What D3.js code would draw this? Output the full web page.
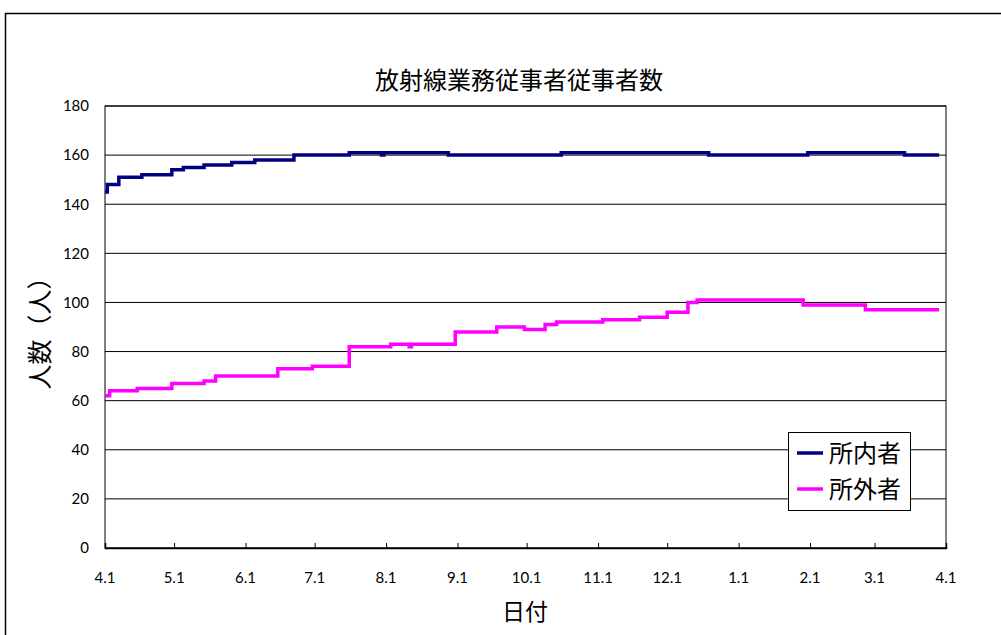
<!DOCTYPE html>
<html lang="ja">
<head>
<meta charset="utf-8">
<script src="https://d3js.org/d3.v7.min.js"></script>
<style>
body { margin: 0; background: #fff; }
text { font-family: "Noto Sans CJK JP", "Noto Sans", sans-serif; fill: #000; }
</style>
</head>
<body>
<svg width="1001" height="635"></svg>
<script>
// 所内者: 変化した日と人数
var naiDates = ["2010-04-01","2010-04-02","2010-04-07","2010-04-17","2010-04-30","2010-05-05","2010-05-14","2010-05-26","2010-06-05","2010-06-22","2010-07-16","2010-07-30","2010-07-31","2010-08-28","2010-10-16","2010-12-19","2011-01-31","2011-03-14","2011-03-29"];
var naiValues = [145,148,151,152,154,155,156,157,158,160,161,160,161,160,161,160,161,160,160];

// 所外者
var gaiDates = ["2010-04-01","2010-04-03","2010-04-15","2010-04-30","2010-05-14","2010-05-19","2010-06-15","2010-06-30","2010-07-16","2010-08-03","2010-08-11","2010-08-12","2010-08-31","2010-09-18","2010-09-30","2010-10-09","2010-10-14","2010-11-03","2010-11-19","2010-12-01","2010-12-10","2010-12-14","2011-01-29","2011-02-25","2011-03-29"];
var gaiValues = [62,64,65,67,68,70,73,74,82,83,82,83,88,90,89,91,92,93,94,96,100,101,99,97,97];

var tickDates = ["2010-04-01","2010-05-01","2010-06-01","2010-07-01","2010-08-01","2010-09-01","2010-10-01","2010-11-01","2010-12-01","2011-01-01","2011-02-01","2011-03-01","2011-04-01"];
var tickLabels = ["4.1","5.1","6.1","7.1","8.1","9.1","10.1","11.1","12.1","1.1","2.1","3.1","4.1"];
var yTicks = [0,20,40,60,80,100,120,140,160,180];

var parse = d3.timeParse("%Y-%m-%d");
var series = [
  { name: "所内者", color: "#000080", data: naiDates.map(function(d, i) { return { date: parse(d), value: naiValues[i] }; }) },
  { name: "所外者", color: "#ff00ff", data: gaiDates.map(function(d, i) { return { date: parse(d), value: gaiValues[i] }; }) }
];

var svg = d3.select("svg");
var plotLeft = 105, plotRight = 946, plotTop = 106, plotBottom = 548;

// outer frame
svg.append("rect")
  .attr("x", 5.5).attr("y", 13.5)
  .attr("width", 1000).attr("height", 640)
  .attr("fill", "none").attr("stroke", "#000").attr("stroke-width", 1.5);

var x = d3.scaleTime().domain([parse(tickDates[0]), parse(tickDates[tickDates.length - 1])]).range([plotLeft, plotRight]);
var y = d3.scaleLinear().domain([0, 180]).range([plotBottom, plotTop]);

// gridlines
svg.append("g")
  .selectAll("line")
  .data(yTicks)
  .enter().append("line")
  .attr("x1", plotLeft).attr("x2", plotRight)
  .attr("y1", function(d) { return y(d); })
  .attr("y2", function(d) { return y(d); })
  .attr("stroke", "#000").attr("stroke-width", 1);

// plot border
svg.append("rect")
  .attr("x", plotLeft).attr("y", plotTop)
  .attr("width", plotRight - plotLeft).attr("height", plotBottom - plotTop)
  .attr("fill", "none").attr("stroke", "#000").attr("stroke-width", 1);

// y axis labels
svg.append("g")
  .attr("transform", "translate(" + plotLeft + ",0)")
  .call(d3.axisLeft(y).tickValues(yTicks).tickSize(0).tickPadding(16))
  .call(function(g) { g.select(".domain").remove(); })
  .selectAll("text")
  .attr("font-size", "15px")
  .style("font-family", "Lato, 'Noto Sans', sans-serif");

// x axis
var xAxis = svg.append("g")
  .attr("transform", "translate(0," + plotBottom + ")")
  .call(d3.axisTop(x).tickValues(tickDates.map(parse)).tickSize(5).tickFormat(""));
xAxis.select(".domain").attr("stroke-width", 1.5);
svg.append("g")
  .selectAll("text")
  .data(tickDates)
  .enter().append("text")
  .attr("x", function(d) { return x(parse(d)); })
  .attr("y", 583)
  .attr("text-anchor", "middle")
  .attr("font-size", "15px")
  .style("font-family", "Lato, 'Noto Sans', sans-serif")
  .text(function(d, i) { return tickLabels[i]; });

// lines
var line = d3.line()
  .curve(d3.curveStepAfter)
  .x(function(d) { return x(d.date); })
  .y(function(d) { return y(d.value); });

svg.selectAll(".series")
  .data(series)
  .enter().append("path")
  .attr("class", "series")
  .attr("d", function(d) { return line(d.data); })
  .attr("fill", "none")
  .attr("stroke", function(d) { return d.color; })
  .attr("stroke-width", 3.5);

// title and axis titles
svg.append("text")
  .attr("x", 519).attr("y", 89)
  .attr("text-anchor", "middle")
  .attr("font-size", "24px")
  .text("放射線業務従事者従事者数");

svg.append("text")
  .attr("transform", "translate(49,327) rotate(-90)")
  .attr("text-anchor", "middle")
  .attr("font-size", "25px")
  .text("人数（人）");

svg.append("text")
  .attr("x", 525).attr("y", 620)
  .attr("text-anchor", "middle")
  .attr("font-size", "23px")
  .text("日付");

// legend
var legend = svg.append("g").attr("transform", "translate(788,432)");
legend.append("rect")
  .attr("x", 0.5).attr("y", 0.5)
  .attr("width", 122).attr("height", 78)
  .attr("fill", "#fff").attr("stroke", "#000").attr("stroke-width", 1);
var item = legend.selectAll(".item")
  .data(series)
  .enter().append("g")
  .attr("class", "item")
  .attr("transform", function(d, i) { return "translate(0," + (21 + i * 36) + ")"; });
item.append("line")
  .attr("x1", 9).attr("x2", 35)
  .attr("stroke", function(d) { return d.color; })
  .attr("stroke-width", 3.5);
item.append("text")
  .attr("x", 41).attr("y", 9)
  .attr("font-size", "24px")
  .text(function(d) { return d.name; });
</script>
</body>
</html>
